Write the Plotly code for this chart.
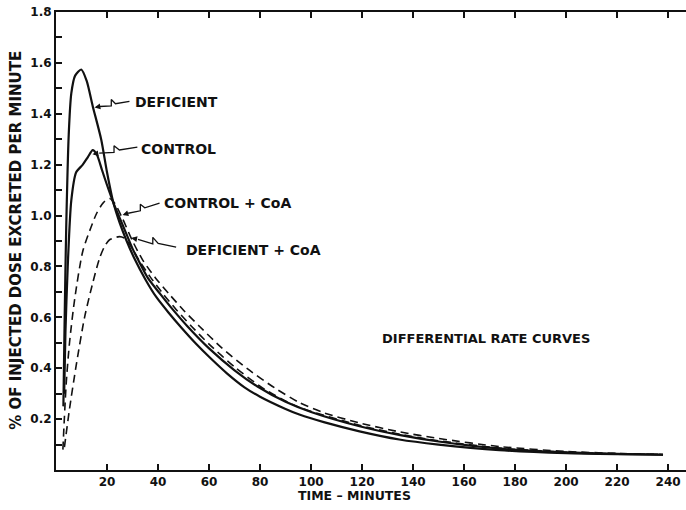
import plotly.graph_objects as go

# ---------------- data ----------------
deficient_x = [2.9, 3.4, 4.0, 5.0, 6.0, 7.5, 9.9, 12.0, 14.4, 17.7, 20.0, 22.5, 25.0, 27.5, 30.8,
               35.0, 39.3, 44.0, 49.1, 55.0, 60.0, 67.0, 73.9, 80.0, 90.0, 95.4, 105.0, 119.0,
               134.6, 150.0, 173.8, 200.0, 220.0, 238.0]
deficient_y = [0.25, 0.60, 0.95, 1.32, 1.48, 1.55, 1.574, 1.53, 1.43, 1.30, 1.17, 1.05, 0.97, 0.905, 0.83,
               0.75, 0.68, 0.62, 0.56, 0.495, 0.445, 0.38, 0.325, 0.288, 0.24, 0.218, 0.188, 0.152,
               0.12, 0.10, 0.078, 0.066, 0.062, 0.060]

control_x = [3.2, 3.7, 4.6, 6.0, 7.9, 10.5, 12.5, 14.4, 16.0, 18.0, 20.0, 22.5, 25.0, 27.5, 30.0,
             32.0, 36.0, 41.0, 45.0, 51.5, 60.0, 70.0, 79.0, 90.0, 100.0, 119.0, 135.0, 150.0,
             174.0, 200.0, 220.0, 238.0]
control_y = [0.30, 0.54, 0.80, 1.06, 1.17, 1.20, 1.23, 1.257, 1.24, 1.18, 1.12, 1.05, 0.99, 0.93, 0.87,
             0.83, 0.755, 0.69, 0.64, 0.565, 0.478, 0.392, 0.328, 0.268, 0.228, 0.172, 0.137, 0.112,
             0.084, 0.069, 0.063, 0.060]

control_coa_x = [2.7, 4.0, 5.3, 7.3, 10.5, 13.8, 16.0, 18.5, 21.0, 23.0, 26.0, 30.0, 34.0, 39.0,
                 44.5, 50.0, 56.3, 65.0, 75.0, 85.7, 95.4, 105.0, 119.0, 134.6, 150.0, 174.0,
                 200.0, 220.0, 238.0]
control_coa_y = [0.08, 0.34, 0.50, 0.67, 0.86, 0.956, 1.01, 1.05, 1.067, 1.048, 0.99, 0.90, 0.825, 0.755,
                 0.69, 0.628, 0.564, 0.48, 0.398, 0.323, 0.265, 0.225, 0.185, 0.15, 0.124, 0.092,
                 0.073, 0.065, 0.061]

deficient_coa_x = [3.3, 5.3, 7.9, 11.2, 14.4, 17.0, 19.0, 21.0, 24.9, 27.0, 29.0, 32.5, 37.0, 42.0,
                   47.0, 53.0, 60.0, 70.0, 81.7, 95.0, 119.0, 135.0, 150.0, 174.0, 200.0, 220.0, 238.0]
deficient_coa_y = [0.09, 0.24, 0.41, 0.60, 0.735, 0.83, 0.878, 0.905, 0.917, 0.91, 0.885, 0.825, 0.758, 0.692,
                   0.632, 0.566, 0.495, 0.405, 0.318, 0.248, 0.176, 0.14, 0.115, 0.086, 0.07, 0.064, 0.061]

series_names = ["DEFICIENT", "CONTROL", "CONTROL + CoA", "DEFICIENT + CoA"]

x_tick_vals = [20, 40, 60, 80, 100, 120, 140, 160, 180, 200, 220, 240]
y_tick_vals = [0.2, 0.4, 0.6, 0.8, 1.0, 1.2, 1.4, 1.6, 1.8]
y_tick_text = ["0.2", "0.4", "0.6", "0.8", "1.0", "1.2", "1.4", "1.6", "1.8"]

# label placement (data coords): text anchor, leader tail, leader tip on curve
label_pos = {
    "DEFICIENT": (30.0, 1.445),
    "CONTROL": (32.7, 1.261),
    "CONTROL + CoA": (41.4, 1.049),
    "DEFICIENT + CoA": (50.0, 0.865),
}
leader_tail = {
    "DEFICIENT": (28.8, 1.449),
    "CONTROL": (31.9, 1.269),
    "CONTROL + CoA": (40.6, 1.049),
    "DEFICIENT + CoA": (47.1, 0.876),
}
leader_tip = {
    "DEFICIENT": (15.1, 1.425),
    "CONTROL": (14.3, 1.241),
    "CONTROL + CoA": (26.1, 1.002),
    "DEFICIENT + CoA": (29.5, 0.912),
}

# ---------------- figure ----------------
W, H = 686, 510
ML, MR, MT, MB = 56, 0, 12, 40
X_RANGE = [0, 247]
Y_RANGE = [0, 1.8]
px_per_x = (W - ML - MR) / (X_RANGE[1] - X_RANGE[0])
px_per_y = (H - MT - MB) / (Y_RANGE[1] - Y_RANGE[0])

FONT = "DejaVu Sans"
INK = "#111111"

fig = go.Figure()

series = [
    (deficient_x, deficient_y, "solid", 2.2),
    (control_x, control_y, "solid", 2.2),
    (control_coa_x, control_coa_y, "8px,5px", 1.6),
    (deficient_coa_x, deficient_coa_y, "8px,5px", 1.6),
]
for name, (xs, ys, dash, w) in zip(series_names, series):
    fig.add_trace(go.Scatter(
        x=xs, y=ys, mode="lines", name=name,
        line=dict(color=INK, width=w, dash=dash, shape="spline", smoothing=0.7),
        showlegend=False, hoverinfo="skip"))


def zigzag(tail, tip):
    (tx, ty), (hx, hy) = tail, tip
    def p(t, up_px=0.0):
        return (tx + (hx - tx) * t, ty + (hy - ty) * t + up_px / px_per_y)
    pts = [p(0.0), p(0.40), p(0.52, 5.0), p(0.52, -1.5), p(0.85)]
    return [a for a, _ in pts], [b for _, b in pts]


annotations = []
for name in series_names:
    zx, zy = zigzag(leader_tail[name], leader_tip[name])
    fig.add_trace(go.Scatter(x=zx, y=zy, mode="lines", line=dict(color=INK, width=1.3),
                             showlegend=False, hoverinfo="skip"))
    tipx, tipy = leader_tip[name]
    annotations.append(dict(
        x=tipx, y=tipy, ax=zx[-1], ay=zy[-1], xref="x", yref="y", axref="x", ayref="y",
        text="", showarrow=True, arrowhead=2, arrowsize=0.9, arrowwidth=1.3, arrowcolor=INK))
    lx, ly = label_pos[name]
    annotations.append(dict(
        x=lx, y=ly, xref="x", yref="y", text=name, showarrow=False, xanchor="left",
        yanchor="middle", font=dict(family=FONT, size=14, color=INK, weight="bold")))

annotations.append(dict(
    x=168.5, y=0.516, xref="x", yref="y", text="DIFFERENTIAL RATE CURVES", showarrow=False,
    xanchor="center", yanchor="middle", font=dict(family=FONT, size=13, color=INK, weight="bold")))

annotations.append(dict(
    x=-0.064, y=0.502, xref="paper", yref="paper", text="% OF INJECTED DOSE EXCRETED PER MINUTE",
    textangle=-90, showarrow=False, xanchor="center", yanchor="middle",
    font=dict(family=FONT, size=15, color=INK, weight="bold")))
annotations.append(dict(
    x=0.4746, y=-0.056, xref="paper", yref="paper", text="TIME \u2013 MINUTES",
    showarrow=False, xanchor="center", yanchor="middle",
    font=dict(family=FONT, size=12.5, color=INK, weight="bold")))

fig.update_layout(
    width=W, height=H,
    margin=dict(l=ML, r=MR, t=MT, b=MB, pad=0),
    paper_bgcolor="white", plot_bgcolor="white",
    annotations=annotations,
    font=dict(family=FONT, color=INK),
    xaxis=dict(range=X_RANGE, tickvals=x_tick_vals, ticks="inside", ticklen=6, tickwidth=1.5,
               tickcolor=INK, showline=True, linecolor=INK, linewidth=2, mirror="allticks",
               showgrid=False, zeroline=False,
               tickfont=dict(family=FONT, size=12, color=INK, weight="bold")),
    yaxis=dict(range=Y_RANGE, tickvals=y_tick_vals, ticktext=y_tick_text, ticks="inside",
               ticklen=6, tickwidth=1.5, tickcolor=INK, showline=True, linecolor=INK,
               linewidth=2, showgrid=False, zeroline=False,
               minor=dict(dtick=0.1, tick0=0, ticks="inside", ticklen=6, tickwidth=1.5,
                          tickcolor=INK, showgrid=False),
               tickfont=dict(family=FONT, size=12, color=INK, weight="bold")),
)

fig.write_html("out.html")
